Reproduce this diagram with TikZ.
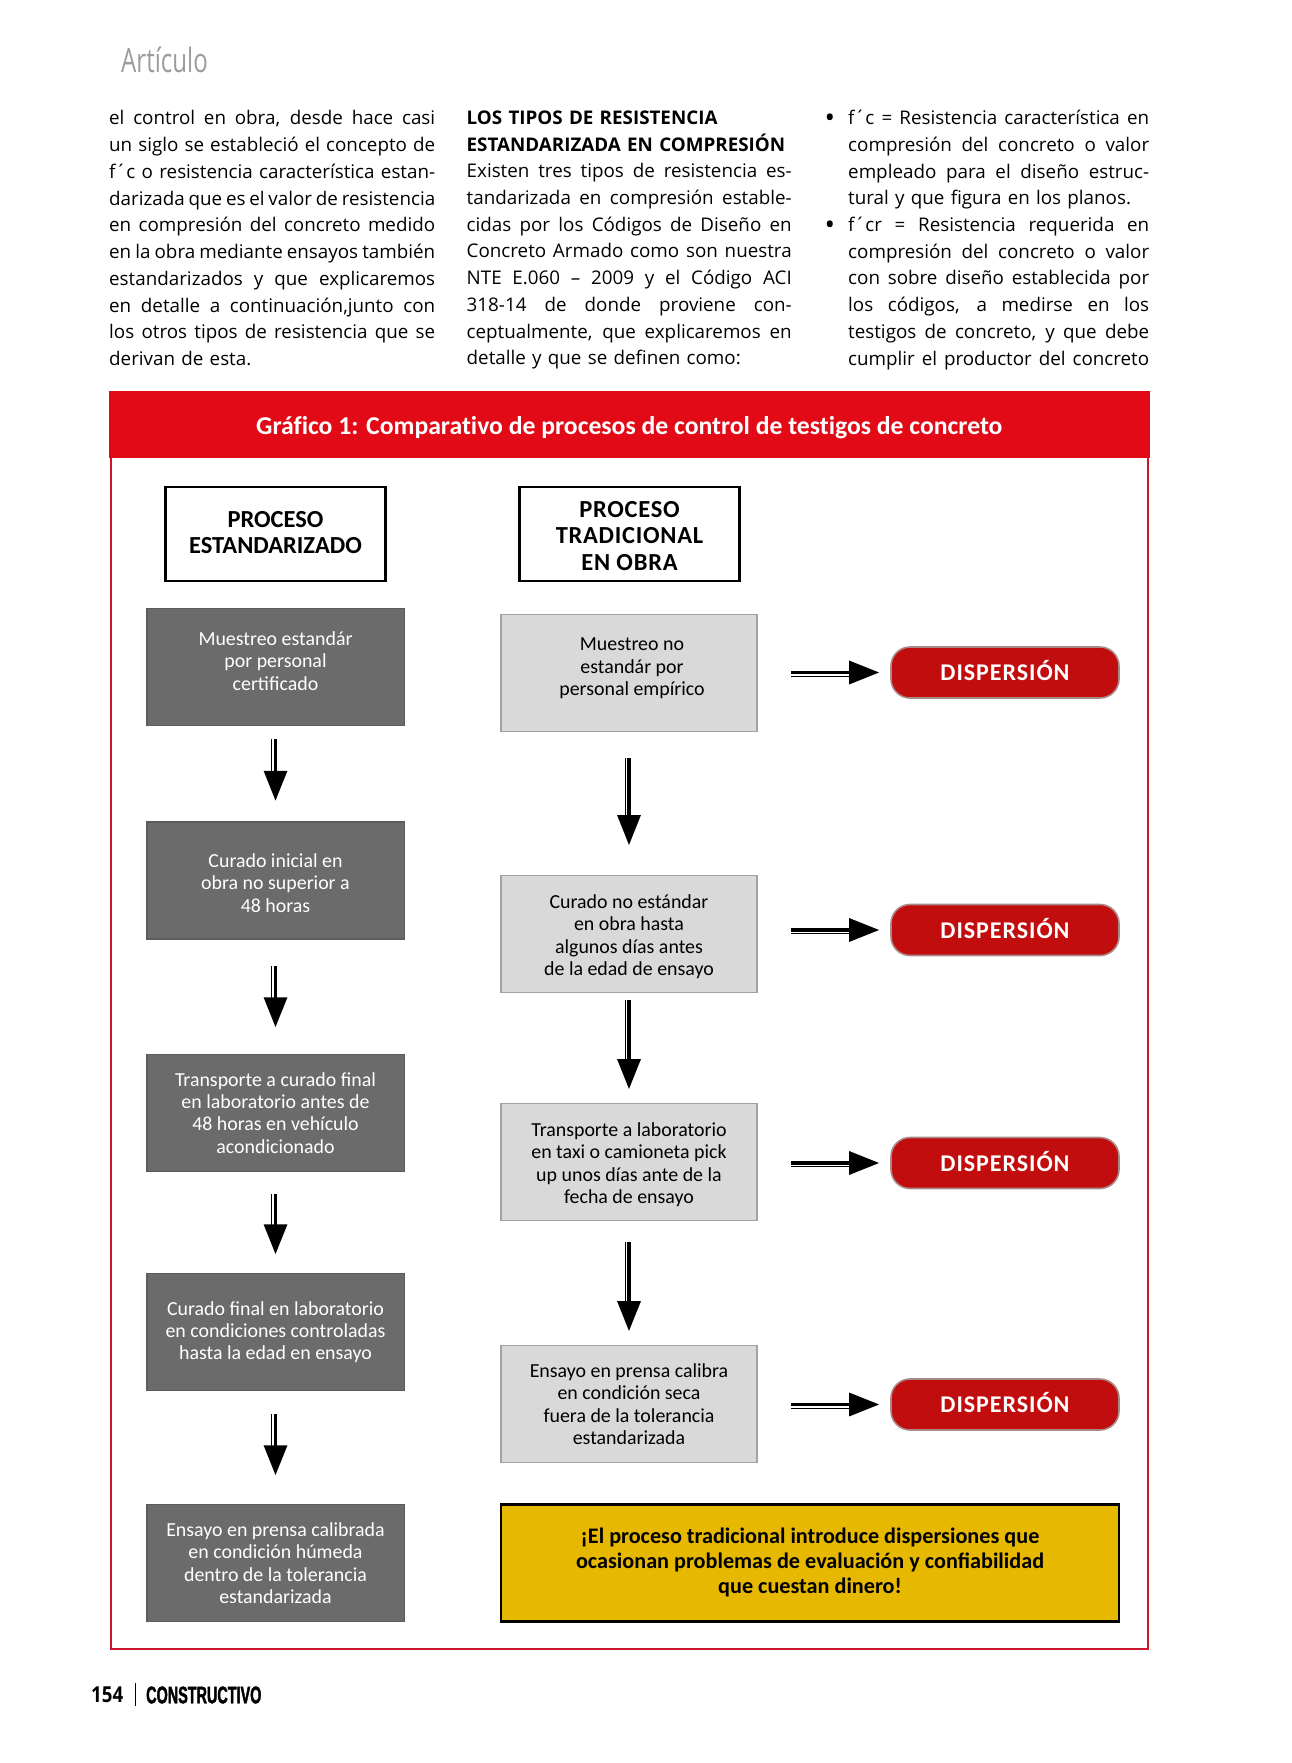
\documentclass[tikz,border=0pt]{standalone}
\usepackage{fontspec}
\setmainfont{Carlito}
\newfontfamily\bodyf{Open Sans}
\newfontfamily\narrowf[FakeStretch=0.72]{Open Sans}
\newfontfamily\heavyf[FakeStretch=0.6,FakeBold=1.6]{Liberation Sans}
\usetikzlibrary{arrows.meta}
\definecolor{hdr}{HTML}{E30A17}
\definecolor{frm}{HTML}{C8162A}
\definecolor{dk}{HTML}{6B6B6B}
\definecolor{dkb}{HTML}{5C5C5C}
\definecolor{lt}{HTML}{D9D9D9}
\definecolor{ltb}{HTML}{A2A2A2}
\definecolor{pil}{HTML}{C10D0E}
\definecolor{pilb}{HTML}{A98A88}
\definecolor{ylw}{HTML}{E6B800}
\definecolor{art}{HTML}{9C9C9C}
\newcommand\jl[1]{\hbox to \hsize{\spaceskip=.26em plus .6em minus .12em\relax #1}}
\newcommand\nl[1]{\hbox{#1}}
\newcommand\dn{\rule{0pt}{19pt}}
\newcommand\pilltext{\raisebox{-8pt}[0pt][0pt]{DISPERSIÓN}}
\tikzset{
  darkbox/.style={draw=dkb,line width=1.5pt,fill=dk,text=white,minimum width=257.5pt,minimum height=117pt,align=center,inner sep=0pt,font=\fontsize{19.9}{22.3}\selectfont},
  lightbox/.style={draw=ltb,line width=1.8pt,fill=lt,text=black,minimum width=256.5pt,minimum height=117pt,align=center,inner sep=0pt,font=\fontsize{19.9}{22.3}\selectfont},
  titlebox/.style={draw=black,line width=2.6pt,fill=white,minimum width=220.5pt,minimum height=94pt,align=center,inner sep=0pt,font=\fontsize{24.5}{26.6}\selectfont\bfseries},
  pillbox/.style={draw=pilb,line width=1.6pt,fill=pil,text=white,rounded corners=19pt,minimum width=228pt,minimum height=51pt,inner sep=0pt,font=\fontsize{24}{27}\selectfont\bfseries\addfontfeature{LetterSpace=4}},
  notebox/.style={draw=black,line width=2.2pt,fill=ylw,minimum width=618pt,minimum height=117pt,align=center,inner sep=0pt,font=\fontsize{22.2}{25}\selectfont\bfseries},
  bodycol/.style={anchor=north west,inner sep=0pt,align=left,font=\bodyf\fontsize{18.8}{26.72}\selectfont},
  hlink/.style={-{Triangle[length=30pt,width=23pt]},line width=3.2pt,shorten <=33pt,shorten >=11pt,
    preaction={draw,-{},line width=1.1pt,shorten >=35pt,transform canvas={yshift=-3.6pt}}},
  vlink/.style 2 args={-{Triangle[length=30pt,width=23pt]},line width=3.2pt,shorten <=#1,shorten >=#2,
    preaction={draw,-{},line width=1.1pt,shorten >=#2+24pt,transform canvas={xshift=-3.6pt}}},
}
\begin{document}
\begin{tikzpicture}[x=1pt,y=-1pt]
\useasboundingbox[fill=white] (0,0) rectangle (1291,1763);
\node[anchor=west,inner sep=0pt,text=art,font=\narrowf\fontsize{33.5}{35}\selectfont] (art) at (121,59.5) {Artículo};

\node[bodycol,text width=326pt] (col1) at (109,110.5) {%
\jl{el control en obra, desde hace casi}
\jl{un siglo se estableció el concepto de}
\jl{f´c o resistencia característica estan-}
\jl{darizada que es el valor de resistencia}
\jl{en compresión del concreto medido}
\jl{en la obra mediante ensayos también}
\jl{estandarizados y que explicaremos}
\jl{en detalle a continuación,junto con}
\jl{los otros tipos de resistencia que se}
\nl{derivan de esta.}};

\node[bodycol,text width=325pt] (col2) at (466.5,110.5) {%
\nl{\bfseries LOS TIPOS DE RESISTENCIA}
\nl{\bfseries ESTANDARIZADA EN COMPRESIÓN}
\jl{Existen tres tipos de resistencia es-}
\jl{tandarizada en compresión estable-}
\jl{cidas por los Códigos de Diseño en}
\jl{Concreto Armado como son nuestra}
\jl{NTE E.060 – 2009 y el Código ACI}
\jl{318-14 de donde proviene con-}
\jl{ceptualmente, que explicaremos en}
\nl{detalle y que se definen como:}};

\node[bodycol,text width=301pt] (col3) at (848,110) {%
\jl{f´c = Resistencia característica en}
\jl{compresión del concreto o valor}
\jl{empleado para el diseño estruc-}
\nl{tural y que figura en los planos.}
\jl{f´cr = Resistencia requerida en}
\jl{compresión del concreto o valor}
\jl{con sobre diseño establecida por}
\jl{los códigos, a medirse en los}
\jl{testigos de concreto, y que debe}
\jl{cumplir el productor del concreto}};
\node[inner sep=0pt,font=\bodyf\fontsize{28}{30}\selectfont] (b1) at (830,121) {•};
\node[inner sep=0pt,font=\bodyf\fontsize{28}{30}\selectfont] (b2) at (830,228) {•};

\node[draw=frm,line width=2pt,minimum width=1037.5pt,minimum height=1239pt,inner sep=0pt] (frame) at (629.5,1029.5) {};
\node[fill=hdr,text=white,minimum width=1040.5pt,minimum height=67pt,inner sep=0pt,font=\fontsize{25.7}{28}\selectfont\bfseries\addfontfeature{Ligatures=NoCommon}] (head) at (629.3,424.5) {\raisebox{-9.5pt}[0pt][0pt]{Gráfico 1: Comparativo de procesos de control de testigos de concreto}};

\node[titlebox] (t1) at (275.5,534) {PROCESO\\ESTANDARIZADO\\[-23.4pt]\mbox{}};
\node[titlebox,font=\fontsize{24.5}{26.6}\selectfont\bfseries\addfontfeature{LetterSpace=3}] (t2) at (629.5,534) {\rule{0pt}{20pt}PROCESO\\TRADICIONAL\\EN OBRA};

\node[darkbox] (d1) at (275.5,667) {Muestreo estandár\\por personal\\certificado\\[-10pt]\mbox{}};
\node[darkbox] (d2) at (275.5,880.5) {\dn Curado inicial en\\obra no superior a\\48 horas};
\node[darkbox] (d3) at (275.5,1113) {Transporte a curado final\\en laboratorio antes de\\48 horas en vehículo\\acondicionado};
\node[darkbox] (d4) at (275.5,1332) {Curado final en laboratorio\\en condiciones controladas\\hasta la edad en ensayo};
\node[darkbox] (d5) at (275.5,1563) {Ensayo en prensa calibrada\\en condición húmeda\\dentro de la tolerancia\\estandarizada};

\node[lightbox] (l1) at (629,673) {\hspace*{6pt}Muestreo no\\\hspace*{6pt}estandár por\\\hspace*{6pt}personal empírico\\[-10pt]\mbox{}};
\node[lightbox] (l2) at (629,934) {\dn Curado no estándar\\en obra hasta\\algunos días antes\\de la edad de ensayo};
\node[lightbox] (l3) at (629,1162) {\dn Transporte a laboratorio\\en taxi o camioneta pick\\up unos días ante de la\\fecha de ensayo};
\node[lightbox] (l4) at (629,1404) {Ensayo en prensa calibra\\en condición seca\\fuera de la tolerancia\\estandarizada};

\node[pillbox] (p1) at (1005,672.5) {\pilltext};
\node[pillbox] (p2) at (1005,930) {\pilltext};
\node[pillbox] (p3) at (1005,1163) {\pilltext};
\node[pillbox] (p4) at (1005,1404.5) {\pilltext};

\node[notebox] (note) at (810,1563) {¡El proceso tradicional introduce dispersiones que\\ocasionan problemas de evaluación y confiabilidad\\que cuestan dinero!\\[-20pt]\mbox{}};

\draw[vlink={13pt}{20.5pt}] (d1.south) -- (d2.north);
\draw[vlink={26.5pt}{26.5pt}] (d2.south) -- (d3.north);
\draw[vlink={22pt}{18.5pt}] (d3.south) -- (d4.north);
\draw[vlink={23pt}{28.5pt}] (d4.south) -- (d5.north);
\draw[vlink={25.5pt}{29.5pt}] (l1.south) -- (l2.north);
\draw[vlink={6.5pt}{13.5pt}] (l2.south) -- (l3.north);
\draw[vlink={21pt}{13.5pt}] (l3.south) -- (l4.north);
\draw[hlink] (l1.east |- p1.west) -- (p1.west);
\draw[hlink] (l2.east |- p2.west) -- (p2.west);
\draw[hlink] (l3.east |- p3.west) -- (p3.west);
\draw[hlink] (l4.east |- p4.west) -- (p4.west);

\node[anchor=west,inner sep=0pt,font=\fontsize{22}{24}\selectfont\bodyf\bfseries\addfontfeature{FakeStretch=0.85}] (pg) at (91,1695) {154};
\coordinate (ra) at (135,1683);
\coordinate (rb) at (135,1706);
\draw[line width=1pt] (ra) -- (rb);
\node[anchor=west,inner sep=0pt,font=\heavyf\fontsize{24}{26}\selectfont\bfseries] (mag) at (146,1695) {CONSTRUCTIVO};
\end{tikzpicture}
\end{document}
